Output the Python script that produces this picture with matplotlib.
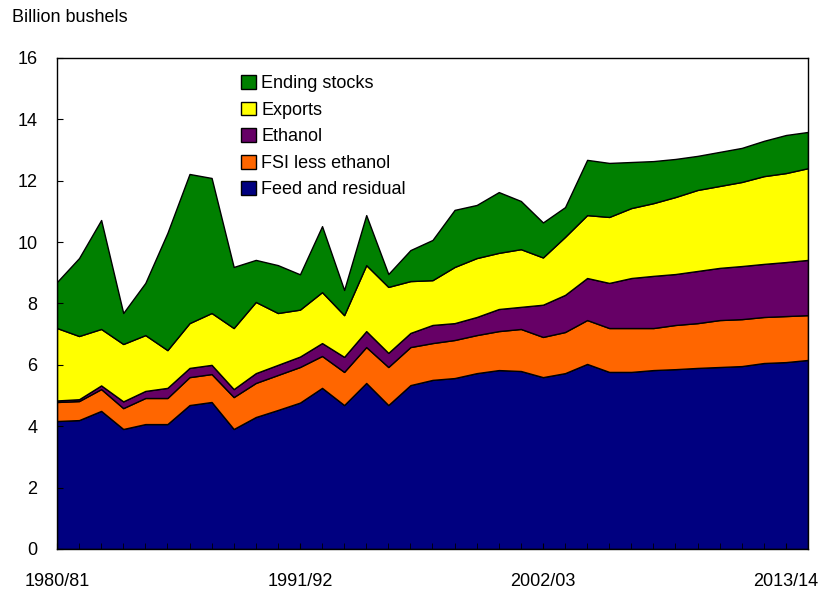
import matplotlib
matplotlib.use("Agg")
import matplotlib.pyplot as plt
from matplotlib.patches import Patch
import numpy as np

plt.rcParams["font.family"] = ["Liberation Sans", "DejaVu Sans"]

# marketing years 1980/81 .. 2014/15
years = [f"{y}/{str(y + 1)[-2:]}" for y in range(1980, 2015)]

feed = [4.17, 4.20, 4.50, 3.91, 4.07, 4.07, 4.69, 4.79, 3.91, 4.30,
        4.53, 4.77, 5.25, 4.69, 5.41, 4.69, 5.34, 5.51, 5.57, 5.73,
        5.83, 5.80, 5.60, 5.73, 6.03, 5.77, 5.77, 5.83, 5.86, 5.90,
        5.93, 5.96, 6.06, 6.09, 6.16]
fsi = [0.62, 0.62, 0.71, 0.68, 0.85, 0.85, 0.91, 0.91, 1.04, 1.11,
       1.14, 1.16, 1.04, 1.08, 1.17, 1.24, 1.24, 1.20, 1.24, 1.24,
       1.27, 1.37, 1.31, 1.34, 1.43, 1.43, 1.43, 1.37, 1.44, 1.46,
       1.53, 1.53, 1.50, 1.50, 1.46]
ethanol = [0.05, 0.06, 0.12, 0.22, 0.23, 0.33, 0.30, 0.30, 0.26, 0.32,
           0.33, 0.34, 0.42, 0.49, 0.52, 0.46, 0.46, 0.59, 0.55, 0.59,
           0.72, 0.72, 1.05, 1.21, 1.37, 1.47, 1.63, 1.70, 1.66, 1.70,
           1.70, 1.73, 1.73, 1.76, 1.80]
exports = [2.36, 2.06, 1.84, 1.87, 1.82, 1.23, 1.46, 1.69, 1.99, 2.32,
           1.69, 1.53, 1.66, 1.36, 2.15, 2.15, 1.69, 1.46, 1.83, 1.92,
           1.83, 1.88, 1.54, 1.89, 2.05, 2.15, 2.28, 2.37, 2.51, 2.64,
           2.67, 2.74, 2.86, 2.90, 2.99]
stocks = [1.50, 2.54, 3.55, 1.01, 1.70, 3.82, 4.86, 4.40, 1.99, 1.37,
          1.56, 1.15, 2.15, 0.82, 1.63, 0.42, 1.01, 1.31, 1.86, 1.73,
          1.98, 1.57, 1.14, 0.97, 1.80, 1.76, 1.50, 1.37, 1.24, 1.11,
          1.11, 1.11, 1.15, 1.24, 1.18]

names = ["Feed and residual", "FSI less ethanol", "Ethanol", "Exports", "Ending stocks"]
colors = ["#000080", "#FF6600", "#660066", "#FFFF00", "#008000"]

fig = plt.figure(figsize=(8.22, 5.96), dpi=100)
ax = fig.add_axes([0.0693, 0.0789, 0.9137, 0.8238])

x = np.arange(len(years))
ax.stackplot(x, feed, fsi, ethanol, exports, stocks, colors=colors,
             edgecolor="black", linewidth=1.0)

ax.set_xlim(0, len(years) - 1)
ax.set_ylim(0, 16)
ax.set_yticks(range(0, 17, 2))
ax.set_xticks([0, 11, 22, 33])
ax.set_xticklabels([years[i] for i in [0, 11, 22, 33]])
ax.set_xticks(x, minor=True)
ax.tick_params(axis="both", direction="in", length=4, labelsize=13, pad=14)
ax.tick_params(axis="x", which="minor", direction="in", length=4)
ax.tick_params(axis="x", pad=17)
for s in ax.spines.values():
    s.set_linewidth(1.0)

fig.text(12 / 822, 1 - 18 / 596, "Billion bushels", fontsize=13, va="center", ha="left")

handles = [Patch(facecolor=c, edgecolor="black", label=n)
           for c, n in zip(colors[::-1], names[::-1])]
ax.legend(handles=handles, loc="upper left", bbox_to_anchor=(0.236, 0.98),
          frameon=False, fontsize=13, handlelength=0.8, handleheight=0.8,
          handletextpad=0.3, labelspacing=0.52, borderaxespad=0)

fig.savefig("out.png", dpi=100)
